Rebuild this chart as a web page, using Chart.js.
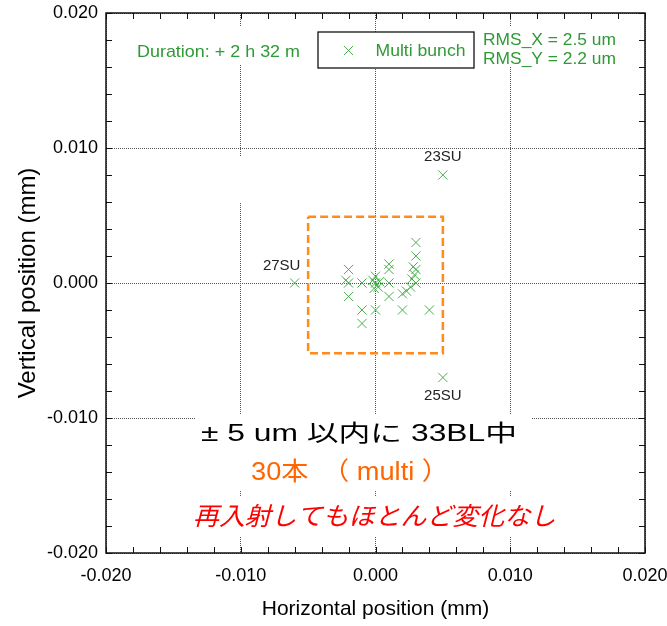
<!DOCTYPE html>
<html>
<head>
<meta charset="utf-8">
<script src="https://cdn.jsdelivr.net/npm/chart.js@4.4.0/dist/chart.umd.min.js"></script>
<style>
html, body { margin: 0; padding: 0; background: #fff; }
canvas { display: block; }
</style>
</head>
<body>
<canvas id="chart" width="667" height="626"></canvas>
<script>
// beam positions of the 30 BL inside +-5 um (mm)
const bunchX = [0.003, 0.003, 0.003, 0.0028, 0.003, 0.0027, 0.0026, 0.002, 0.0023, 0.001,
                0.001, 0.001, 0.001, 0.0, -0.0002, 0.0, 0.0002, 0.0003, -0.0001, -0.001,
                -0.002, -0.002, -0.0022, -0.002, -0.001, 0.0, 0.002, 0.004, -0.001, 0.0029];
const bunchY = [0.003, 0.002, 0.001, 0.0012, 0.0, 0.0003, -0.0003, -0.0008, -0.0006, 0.001,
                0.0014, 0.0, -0.001, 0.0, 0.0002, 0.0005, -0.0003, 0.0001, -0.0004, 0.0,
                0.001, 0.0, 0.0002, -0.001, -0.002, -0.002, -0.002, -0.002, -0.003, 0.0006];
// the three outside the box
const outlierNames = ['23SU', '25SU', '27SU'];
const outlierX = [0.005, 0.005, -0.006];
const outlierY = [0.008, -0.007, 0.0];
// +-5 um frame
const boxX = [-0.005, 0.005, 0.005, -0.005, -0.005];
const boxY = [0.0049, 0.0049, -0.0052, -0.0052, 0.0049];

const majorTicks = [-0.02, -0.01, 0, 0.01, 0.02];
const minorTicks = [-0.018, -0.016, -0.014, -0.012, -0.008, -0.006, -0.004, -0.002,
                    0.002, 0.004, 0.006, 0.008, 0.012, 0.014, 0.016, 0.018];

const durationText = 'Duration: + 2 h 32 m';
const legendLabel = 'Multi bunch';
const rmsLines = ['RMS_X = 2.5 um', 'RMS_Y = 2.2 um'];
const noteLines = ['± 5 um 以内に 33BL中', '30本　（ multi ）', '再入射してもほとんど変化なし'];

const GREEN = '#2f9a35';
const MARK = 'rgba(55,165,60,0.9)';
const SANS = '"Liberation Sans", Arial, sans-serif';
const CJK = '"Liberation Sans", "Noto Sans CJK JP", sans-serif';

Chart.defaults.font.family = SANS;
Chart.defaults.color = '#000';

// draw text centred at (cx, cy), squeezed/stretched to width w
function fitText(ctx, str, cx, cy, w, font, color) {
  ctx.save();
  ctx.font = font;
  ctx.fillStyle = color;
  ctx.textAlign = 'center';
  ctx.textBaseline = 'middle';
  const sx = w / ctx.measureText(str).width;
  ctx.translate(cx, cy);
  ctx.scale(sx, 1);
  ctx.fillText(str, 0, 0);
  ctx.restore();
}

const overlay = {
  id: 'overlay',
  beforeDatasetsDraw(chart) {
    const ctx = chart.ctx;
    ctx.save();
    // text boxes on the slide hide the grid behind them
    ctx.fillStyle = '#fff';
    ctx.fillRect(130, 27, 176, 38);
    ctx.fillRect(480, 27, 142, 40);
    ctx.fillRect(196, 414, 335, 76);
    ctx.fillRect(185, 497, 392, 40);
    ctx.fillRect(238, 157, 10, 46);
    ctx.restore();
  },
  afterDatasetsDraw(chart) {
    const ctx = chart.ctx;
    const xs = chart.scales.x, ys = chart.scales.y;
    const a = chart.chartArea;
    ctx.save();

    // frame + inward ticks on all four sides
    ctx.strokeStyle = '#111';
    ctx.lineWidth = 1;
    ctx.beginPath();
    majorTicks.concat(minorTicks).forEach(v => {
      const px = Math.round(xs.getPixelForValue(v)) + 0.5;
      const py = Math.round(ys.getPixelForValue(v)) + 0.5;
      ctx.moveTo(px, a.bottom); ctx.lineTo(px, a.bottom - 6);
      ctx.moveTo(px, a.top); ctx.lineTo(px, a.top + 6);
      ctx.moveTo(a.left, py); ctx.lineTo(a.left + 6, py);
      ctx.moveTo(a.right, py); ctx.lineTo(a.right - 6, py);
    });
    ctx.stroke();
    ctx.lineWidth = 1.5;
    ctx.strokeRect(a.left, a.top, a.right - a.left, a.bottom - a.top);

    // labels of the outliers
    ctx.font = '15px ' + SANS;
    ctx.fillStyle = '#222';
    ctx.textAlign = 'center';
    ctx.textBaseline = 'middle';
    const offs = [[0, -18], [0, 18], [-13, -17]];
    outlierNames.forEach((n, i) => {
      ctx.fillText(n, xs.getPixelForValue(outlierX[i]) + offs[i][0],
                      ys.getPixelForValue(outlierY[i]) + offs[i][1]);
    });

    // legend box
    ctx.fillStyle = '#fff';
    ctx.fillRect(318, 32, 156, 36);
    ctx.lineWidth = 1.3;
    ctx.strokeStyle = '#111';
    ctx.strokeRect(318, 32, 156, 36);
    ctx.strokeStyle = MARK;
    ctx.lineWidth = 1;
    ctx.beginPath();
    ctx.moveTo(344, 46); ctx.lineTo(353, 55);
    ctx.moveTo(353, 46); ctx.lineTo(344, 55);
    ctx.stroke();
    fitText(ctx, legendLabel, 420.5, 51, 90, '17px ' + SANS, GREEN);

    fitText(ctx, durationText, 218.5, 52, 163, '17px ' + SANS, GREEN);
    fitText(ctx, rmsLines[0], 549.5, 40, 133, '17px ' + SANS, GREEN);
    fitText(ctx, rmsLines[1], 549.5, 59, 133, '17px ' + SANS, GREEN);

    fitText(ctx, noteLines[0], 359, 435, 316, '23px ' + CJK, '#000');
    fitText(ctx, noteLines[1], 350, 473, 198, '25px ' + CJK, '#ff6600');
    fitText(ctx, noteLines[2], 374.5, 518, 363, 'italic 25px ' + CJK, '#ff0000');
    ctx.restore();
  }
};

const fmt = v => (Math.abs(v) < 1e-9 ? 0 : v).toFixed(3);

new Chart(document.getElementById('chart'), {
  type: 'scatter',
  data: {
    datasets: [{
      label: legendLabel,
      data: bunchX.concat(outlierX).map((x, i) => ({x: x, y: bunchY.concat(outlierY)[i]})),
      pointStyle: 'crossRot',
      pointRadius: 6.5,
      pointHoverRadius: 6.5,
      borderWidth: 1,
      borderColor: MARK,
      backgroundColor: MARK
    }, {
      type: 'line',
      label: 'box',
      data: boxX.map((x, i) => ({x: x, y: boxY[i]})),
      showLine: true,
      borderColor: '#ff8c1a',
      borderWidth: 2.5,
      borderDash: [8, 4],
      pointRadius: 0,
      fill: false,
      tension: 0
    }]
  },
  options: {
    responsive: false,
    animation: false,
    events: [],
    layout: { padding: { top: 13, right: 22, left: 0, bottom: 0 } },
    plugins: { legend: { display: false }, tooltip: { enabled: false } },
    scales: {
      x: {
        type: 'linear',
        min: -0.02, max: 0.02,
        afterBuildTicks: s => { s.ticks = majorTicks.map(v => ({value: v})); },
        afterFit: s => { s.height = 73; s.paddingLeft = 0; s.paddingRight = 0; },
        ticks: { callback: fmt, padding: 12, font: { size: 18 }, color: '#000', maxRotation: 0 },
        grid: { color: '#555', lineWidth: 1, drawTicks: false },
        border: { display: false, dash: [1, 1] },
        title: { display: true, text: 'Horizontal position (mm)', font: { size: 21 }, color: '#000', padding: { top: 4, bottom: 4 } }
      },
      y: {
        type: 'linear',
        min: -0.02, max: 0.02,
        afterBuildTicks: s => { s.ticks = majorTicks.map(v => ({value: v})); },
        afterFit: s => { s.width = 106; s.paddingTop = 0; s.paddingBottom = 0; },
        ticks: { callback: fmt, padding: 8, font: { size: 18 }, color: '#000' },
        grid: { color: '#555', lineWidth: 1, drawTicks: false },
        border: { display: false, dash: [1, 1] },
        title: { display: true, text: 'Vertical position (mm)', font: { size: 24 }, color: '#000', padding: { top: 14, bottom: 0 } }
      }
    }
  },
  plugins: [overlay]
});
</script>
</body>
</html>
